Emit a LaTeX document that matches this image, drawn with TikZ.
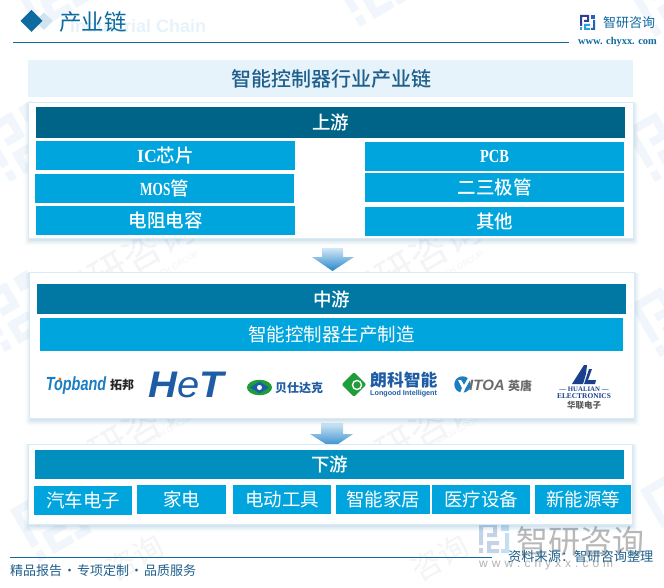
\documentclass[tikz,border=0pt]{standalone}
\usepackage{fontspec}
\setmainfont{Noto Sans CJK SC}
\newfontfamily\cjkmed{Noto Sans CJK SC Medium}
\newfontfamily\lsans{Liberation Sans}
\newfontfamily\lserif{Liberation Serif}
\usetikzlibrary{shapes.geometric}
\definecolor{cell}{HTML}{00A5DD}
\definecolor{headA}{HTML}{006488}
\definecolor{headB}{HTML}{0078A3}
\definecolor{headC}{HTML}{008FBF}
\definecolor{band}{HTML}{E6F3FB}
\definecolor{edge}{HTML}{D6EAF8}
\definecolor{rule}{HTML}{0F6A9F}
\definecolor{ink}{HTML}{1F5F8B}
\definecolor{wm}{HTML}{F2F4F6}
\definecolor{wmlogo}{HTML}{F0F6FB}
\definecolor{hetblue}{HTML}{1F5CA6}
\definecolor{topblue}{HTML}{1B7DC2}
\definecolor{lgreen}{HTML}{1E9E3A}
\definecolor{hlblue}{HTML}{1A3F8C}
\definecolor{arrowtop}{HTML}{D3E8F6}
\definecolor{arrowbot}{HTML}{2585CA}
\definecolor{biglogoA}{HTML}{C5D3E8}
\definecolor{biglogoB}{HTML}{C3E0F2}
\definecolor{smallA}{HTML}{2F3F95}
\definecolor{smallB}{HTML}{2BA3DE}
\definecolor{smallC}{HTML}{2563B5}
\definecolor{paled}{HTML}{CFE3F1}
\tikzset{
 boxcell/.style={fill=cell,text=white,inner sep=0pt,font=\fontsize{18.5}{20}\selectfont},
 boxbold/.style={boxcell,font=\cjkmed\fontsize{18.5}{20}\selectfont},
 boxhead/.style={inner sep=0pt,text=white,font=\cjkmed\fontsize{18.5}{20}\selectfont},
 panel/.style={fill=white,draw=edge,line width=1pt},
 plabel/.style={inner sep=0pt,anchor=center},
 wmtext/.style={inner sep=0pt,text=wm,rotate=30,font=\fontsize{38}{40}\selectfont},
 wmsub/.style={inner sep=0pt,text=wm,rotate=30,font=\lsans\fontsize{8}{9}\selectfont},
}
\newcommand{\dn}[1]{\raisebox{-1.6pt}{#1}}
\newcommand{\latn}[2]{{\lserif\bfseries\scalebox{#1}[1]{#2}}}
% name, x1, y1, x2, y2, style, text
\newcommand{\rbox}[7]{%
 \pgfmathsetmacro{\rw}{#4-#2}\pgfmathsetmacro{\rh}{#5-#3}%
 \pgfmathsetmacro{\rx}{(#2+#4)/2}\pgfmathsetmacro{\ry}{(#3+#5)/2}%
 \node[#6,minimum width=\rw pt,minimum height=\rh pt] (#1) at (\rx,\ry) {#7};}
% shadowed panel
\newcommand{\shpanel}[5]{%
 \foreach \s/\o in {6/0.025,4.5/0.035,3/0.05,1.5/0.06}{
  \fill[blue!40!cyan!60!black,opacity=\o,rounded corners=2pt] (#2-\s+2,#3) rectangle (#4+\s-1,#5+\s+1);}
 \rbox{#1}{#2}{#3}{#4}{#5}{panel}{}}
% brand mark: x, y, size factor, three colours
\newcommand{\brandmark}[7][0]{%
 \begin{scope}[shift={(#2,#3)},rotate=#1,scale=#4]
  \fill[#5] (0,0)--(9,0)--(9,7)--(4,7)--(4,5)--(7,5)--(7,2)--(2,2)--(2,11)--(0,11)--cycle;
  \fill[#6] (0,12.5) rectangle (2,15);
  \fill[#6] (4,9)--(10,9)--(10,11)--(6,11)--(6,13)--(10,13)--(10,15)--(4,15)--cycle;
  \fill[#7] (11,0) rectangle (15,4);
  \fill[#7] (13,5)--(15,5)--(15,15)--(11,15)--(11,13)--(13,13)--cycle;
 \end{scope}}
\begin{document}
\begin{tikzpicture}[x=1pt,y=-1pt]
\useasboundingbox (0,0) rectangle (664,588);
\fill[white] (0,0) rectangle (664,588);
% ---- background watermarks
\brandmark[30]{8}{-22}{4}{wmlogo}{wmlogo}{wmlogo}
\brandmark[30]{330}{-25}{4}{wmlogo}{wmlogo}{wmlogo}
\brandmark[30]{625}{-15}{4}{wmlogo}{wmlogo}{wmlogo}
\brandmark[30]{-20}{130}{4}{wmlogo}{wmlogo}{wmlogo}
\brandmark[30]{625}{130}{4}{wmlogo}{wmlogo}{wmlogo}
\brandmark[30]{-25}{300}{4}{wmlogo}{wmlogo}{wmlogo}
\brandmark[30]{630}{305}{4}{wmlogo}{wmlogo}{wmlogo}
\brandmark[30]{10}{510}{4}{wmlogo}{wmlogo}{wmlogo}
\brandmark[30]{640}{490}{4}{wmlogo}{wmlogo}{wmlogo}
\node[wmtext] (wa) at (125,262) {智研咨询};
\node[wmsub]  (wb) at (165,272) {RESEARCH GROUP};
\node[wmtext] (wc) at (412,262) {智研咨询};
\node[wmsub]  (wd) at (450,272) {RESEARCH GROUP};
\node[wmtext] (we) at (125,437) {智研咨询};
\node[wmsub]  (wf) at (160,435) {RESEARCH GROUP};
\node[wmtext] (wg) at (412,437) {智研咨询};
\node[wmsub]  (wh) at (450,435) {RESEARCH GROUP};
\node[wmtext,font=\fontsize{30}{32}\selectfont] (wi) at (135,558) {咨询};
\node[wmtext,font=\fontsize{30}{32}\selectfont] (wj) at (440,558) {咨询};
% ---- big grey watermark, bottom right
\brandmark{479}{523}{2}{biglogoA}{biglogoA}{biglogoB}
\node[inner sep=0pt,anchor=west,text=black!28,font=\fontsize{32}{34}\selectfont] (bigw) at (516,541) {智研咨询};
\node[inner sep=0pt,anchor=west,text=black!30,font=\lsans\fontsize{12}{14}\selectfont] (bigu) at (479,564) {w\,\,w\,\,w\,\,.\,\,c\,\,h\,\,y\,\,x\,\,x\,\,.\,\,c\,\,o\,\,m};
% ---- page header
\node[inner sep=0pt,anchor=west,text=band,font=\lsans\bfseries\fontsize{18}{19}\selectfont] (en) at (70,26) {Industrial Chain};
\fill[paled] (44,12.5)--(53,21)--(44,30)--(35,21)--cycle;
\fill[rule] (31.5,10)--(42.5,21)--(31.5,32)--(20.5,21)--cycle;
\node[inner sep=0pt,anchor=west,text=rule,font=\fontsize{22.5}{24}\selectfont] (ptitle) at (59,21.5) {产业链};
\coordinate (ra) at (13,42.5); \coordinate (rb) at (569,42.5);
\draw[rule,line width=1pt] (ra)--(rb);
\brandmark{580}{15}{1}{smallA}{smallB}{smallC}
\node[inner sep=0pt,anchor=west,text=rule,font=\fontsize{13}{14}\selectfont] (brand) at (603,22.5) {智研咨询};
\node[inner sep=0pt,anchor=west,text=rule,font=\lserif\bfseries\fontsize{10.4}{11}\selectfont] (url) at (578,42) {www. chyxx. com};
% ---- title band
\rbox{tband}{28}{60}{633}{97}{fill=band,inner sep=0pt,text=ink,font=\cjkmed\fontsize{20}{22}\selectfont}{\hspace{2pt}\raisebox{-2pt}{智能控制器行业产业链}}
% ---- arrows
\shade[top color=arrowtop,bottom color=arrowbot] (322,248)--(343,248)--(343,257)--(354,257)--(332.5,271)--(312,257)--(322,257)--cycle;
\shade[top color=arrowtop,bottom color=arrowbot] (321,423)--(343,423)--(343,434)--(353,434)--(332,448)--(310,434)--(321,434)--cycle;
% ---- upstream
\shpanel{pa}{28.5}{102.5}{633.5}{238.5}
\rbox{ha}{36}{107}{625}{138}{boxhead,fill=headA}{上游}
\rbox{a1}{36}{141}{295}{170}{boxbold}{\dn{\latn{.95}{IC}芯片}}
\rbox{a2}{35}{174}{294}{203}{boxbold}{\dn{\latn{.72}{MOS}管}}
\rbox{a3}{36}{206}{295}{235}{boxbold}{\dn{电阻电容}}
\rbox{a4}{365}{142}{624}{171}{boxbold}{\dn{\latn{.78}{PCB}}}
\rbox{a5}{365}{173}{624}{202}{boxbold}{二三极管}
\rbox{a6}{365}{207}{624}{236}{boxbold}{\dn{其他}}
% ---- midstream
\shpanel{pb}{29.5}{272.5}{634.5}{418.5}
\rbox{hb}{37}{284}{626}{314}{boxhead,fill=headB}{\dn{中游}}
\rbox{b1}{40}{318}{623}{351}{boxcell}{智能控制器生产制造}
% logos
\node[plabel,text=topblue,font=\lsans\bfseries\itshape\fontsize{19}{20}\selectfont,xscale=.76] (l1) at (76,385.5) {Topband};
\node[plabel,text=black!85,font=\fontsize{12}{13}\selectfont\bfseries,anchor=west] (l1b) at (110,385) {拓邦};
\fill[orange!85!red] (60,379) circle (1.6);
\node[plabel,text=hetblue,font=\lsans\bfseries\itshape\fontsize{37}{40}\selectfont,xscale=1.08] (l2) at (186,385) {H{\mdseries e}T};
\node[ellipse,fill=lgreen,minimum width=25pt,minimum height=15.5pt,inner sep=0pt] (l3) at (259.5,387.5) {};
\node[diamond,fill=hetblue,minimum width=19pt,minimum height=12pt,inner sep=0pt] (l3d) at (l3.center) {};
\node[circle,fill=white,minimum size=5pt,inner sep=0pt] (l3c) at (l3.center) {};
\node[plabel,anchor=west,text=hetblue,font=\fontsize{12}{13}\selectfont\bfseries] (l3t) at (275,387.5) {贝仕达克};
\node[diamond,fill=lgreen,minimum width=25pt,minimum height=25pt,inner sep=0pt,rounded corners=2pt] (l4) at (354,384.5) {};
\node[circle,draw=white,line width=1.4pt,minimum size=9pt,inner sep=0pt] (l4c) at (357,385) {};
\node[plabel,anchor=west,text=hetblue,font=\fontsize{16.8}{18}\selectfont\bfseries] (l4t) at (370,380) {朗科智能};
\node[plabel,anchor=west,text=hetblue,font=\lsans\bfseries\fontsize{7.2}{8}\selectfont] (l4e) at (370,393.5) {Longood Intelligent};
\node[circle,fill=topblue,minimum size=16.5pt,inner sep=0pt] (l5) at (462.5,384.5) {};
\fill[white] (458,380)--(461,380)--(464,385)--(468,378)--(470,380)--(465,389)--(463,394)--(460,393)--(462,388)--cycle;
\node[plabel,anchor=west,text=black!58,font=\lsans\bfseries\itshape\fontsize{15}{16}\selectfont] (l5t) at (469,385) {ITOA};
\node[plabel,anchor=west,text=black!58,font=\fontsize{12}{13}\selectfont\bfseries] (l5c) at (508,385.5) {英唐};
\fill[hlblue] (584,365)--(587,365)--(586,374)--(583,384)--(572,384)--cycle;
\fill[hlblue] (589,369)--(592,369)--(588,380)--(596,380)--(595,384)--(584,384)--cycle;
\node[plabel,text=hlblue,font=\lserif\bfseries\fontsize{6.8}{7}\selectfont] (l6a) at (584,389) {— HUALIAN —};
\node[plabel,text=hlblue,font=\lserif\bfseries\fontsize{7.4}{8}\selectfont] (l6b) at (584,396.5) {ELECTRONICS};
\node[plabel,text=black!65,font=\fontsize{8.5}{9}\selectfont\bfseries] (l6c) at (584,405.5) {华联电子};
% ---- downstream
\shpanel{pc}{28}{444}{632.5}{524.5}
\rbox{hc}{35}{450}{624}{479}{boxhead,fill=headC}{下游}
\rbox{c1}{34}{486}{132}{515}{boxcell}{汽车电子}
\rbox{c2}{137}{485}{226}{514}{boxcell}{家电}
\rbox{c3}{233}{485}{331}{514}{boxcell}{电动工具}
\rbox{c4}{336}{485}{430}{514}{boxcell}{智能家居}
\rbox{c5}{432}{485}{530}{514}{boxcell}{医疗设备}
\rbox{c6}{535}{485}{631}{514}{boxcell}{新能源等}
% ---- footer
\coordinate (fa) at (10,557.5); \coordinate (fb) at (492,557.5);
\draw[rule,line width=1pt] (fa)--(fb);
\node[inner sep=0pt,anchor=west,text=ink,font=\fontsize{13.2}{14}\selectfont] (src) at (508,557) {资料来源：智研咨询整理};
\node[inner sep=0pt,anchor=west,text=ink,font=\fontsize{13}{14}\selectfont] (foot) at (10,571) {精品报告\hspace{1pt}·\hspace{1pt}专项定制\hspace{1pt}·\hspace{1pt}品质服务};
\end{tikzpicture}
\end{document}
